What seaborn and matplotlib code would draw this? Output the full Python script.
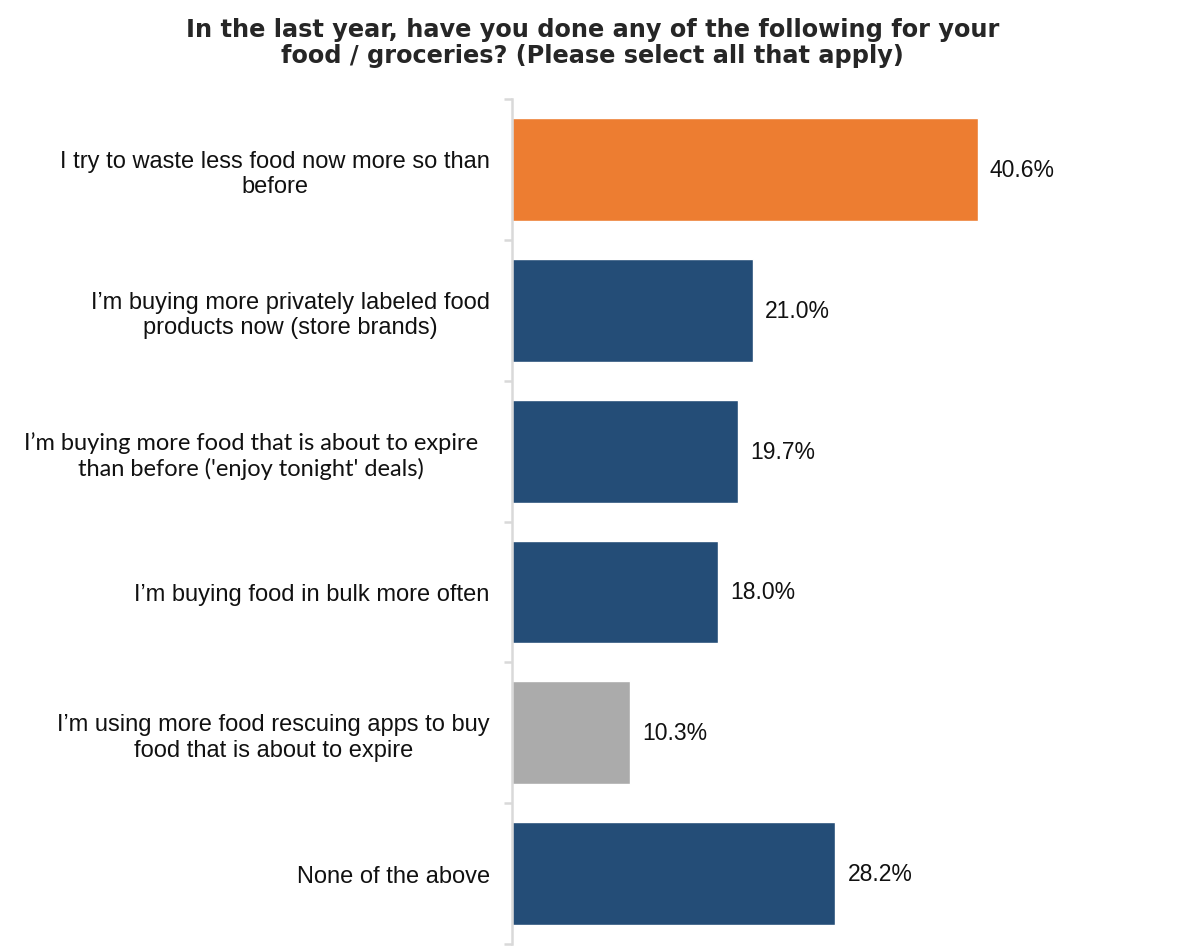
import matplotlib
matplotlib.use("Agg")
import matplotlib.pyplot as plt
import matplotlib.transforms as mtransforms
import seaborn as sns
import pandas as pd

categories = [
    "I try to waste less food now more so than\nbefore",
    "I\u2019m buying more privately labeled food\nproducts now (store brands)",
    "I\u2019m buying more food that is about to expire\nthan before ('enjoy tonight' deals)",
    "I\u2019m buying food in bulk more often",
    "I\u2019m using more food rescuing apps to buy\nfood that is about to expire",
    "None of the above",
]
values = [40.6, 21.0, 19.7, 18.0, 10.3, 28.2]
bar_colors = ["#ED7D31", "#244D77", "#244D77", "#244D77", "#ABABAB", "#244D77"]
title = "In the last year, have you done any of the following for your\nfood / groceries? (Please select all that apply)"

df = pd.DataFrame({"label": categories, "value": values})

sns.set_style("white")
plt.rcParams["font.family"] = ["Liberation Sans", "DejaVu Sans"]

fig = plt.figure(figsize=(11.99, 9.53), dpi=100)
ax = fig.add_axes([0.427, 0.0084, 0.526, 0.8866])

sns.barplot(data=df, y="label", x="value", hue="label",
            palette=dict(zip(categories, bar_colors)), legend=False,
            width=0.73, saturation=1, ax=ax)

ax.set_xlim(0, 55)
ax.set_ylim(5.5, -0.5)
ax.set_xlabel("")
ax.set_ylabel("")
ax.set_xticks([])

for s in ["top", "right", "bottom"]:
    ax.spines[s].set_visible(False)
ax.spines["left"].set_color("#D9D9D9")
ax.spines["left"].set_linewidth(1.8)

ax.set_yticks(range(len(categories)))
ax.set_yticklabels(categories, fontsize=17, multialignment="center")
ax.tick_params(axis="y", which="major", length=0, pad=16, labelcolor="#111111")
ax.set_yticks([i - 0.5 for i in range(len(categories) + 1)], minor=True)
ax.tick_params(axis="y", which="minor", left=True, length=6, width=1.8,
               color="#D9D9D9")

# the expire label is in a different font in the original
lab = ax.get_yticklabels()[2]
lab.set_family(["Lato", "DejaVu Sans"])
lab.set_fontsize(17)
lab.set_transform(lab.get_transform() +
                  mtransforms.ScaledTranslation(-0.12, 0, fig.dpi_scale_trans))

for i, v in enumerate(values):
    ax.text(v + 1.05, i, f"{v:.1f}%", va="center", ha="left",
            fontsize=16.5, color="#111111")

fig.text(0.494, 0.981, title, ha="center", va="top", fontsize=17.3,
         fontweight="bold", family=["DejaVu Sans"], linespacing=1.1)

fig.savefig("out.png", dpi=100)
